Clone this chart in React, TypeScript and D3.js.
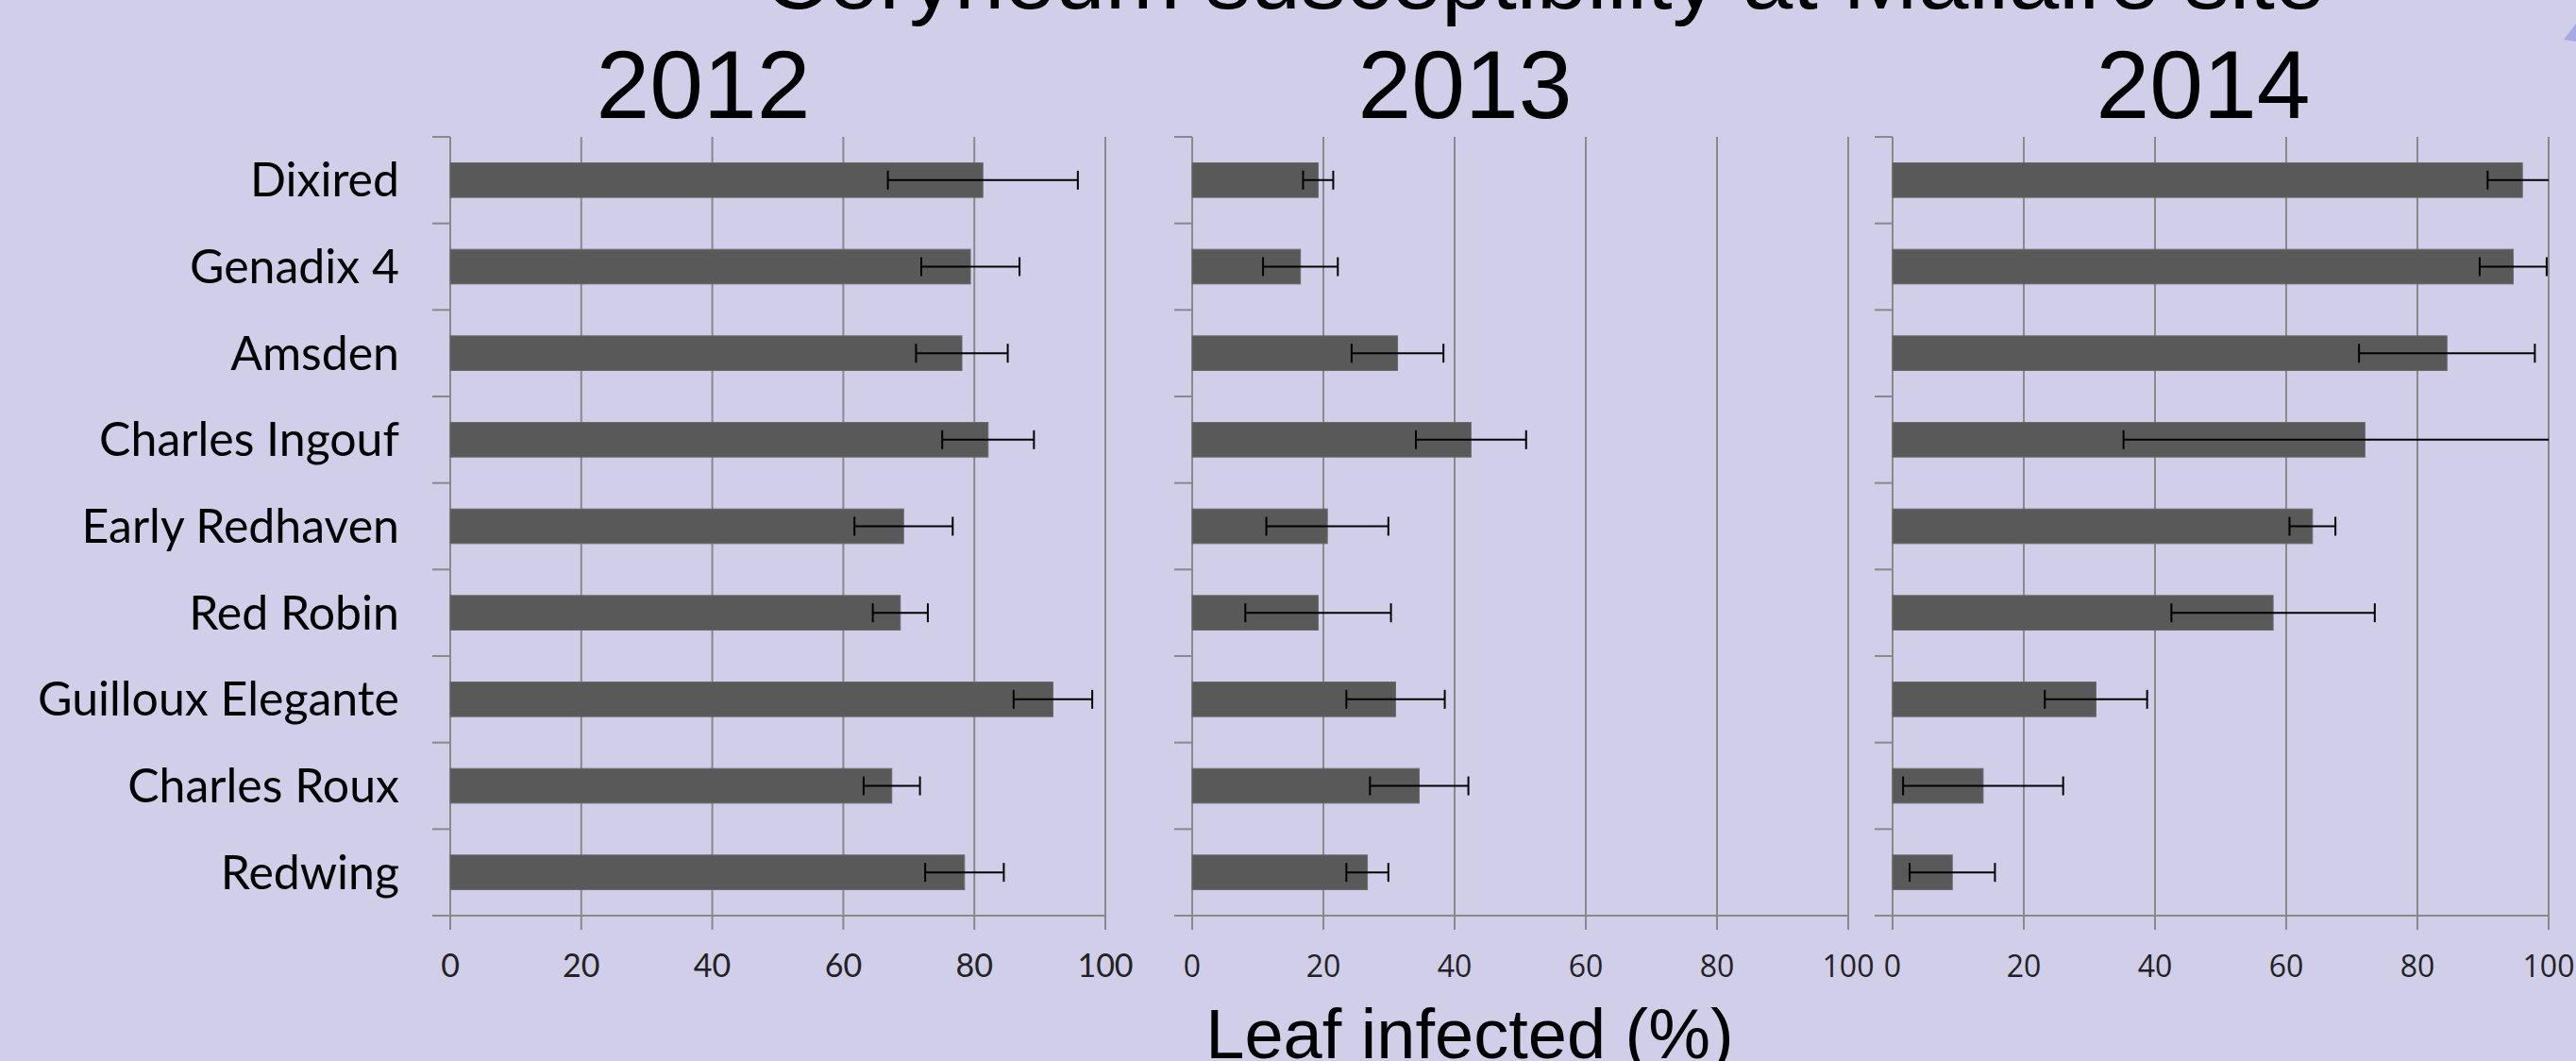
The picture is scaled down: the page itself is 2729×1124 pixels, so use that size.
import React from 'react';
import * as d3 from 'd3';

const categories = ['Dixired', 'Genadix 4', 'Amsden', 'Charles Ingouf', 'Early Redhaven', 'Red Robin', 'Guilloux Elegante', 'Charles Roux', 'Redwing'];
const years = ['2012', '2013', '2014'];
const mean2012 = [81.3, 79.4, 78.1, 82.1, 69.2, 68.7, 92.0, 67.4, 78.5];
const err2012 = [14.5, 7.5, 7.0, 7.0, 7.5, 4.2, 6.0, 4.3, 6.0];
const mean2013 = [19.2, 16.5, 31.3, 42.5, 20.6, 19.2, 31.0, 34.6, 26.7];
const err2013 = [2.3, 5.7, 7.0, 8.4, 9.3, 11.1, 7.5, 7.5, 3.2];
const mean2014 = [96.0, 94.6, 84.5, 72.0, 64.0, 58.0, 31.0, 13.8, 9.1];
const err2014 = [5.3, 5.1, 13.4, 36.8, 3.5, 15.5, 7.8, 12.2, 6.5];
const xTicks = [0, 20, 40, 60, 80, 100];

const title = 'Coryneum susceptibility at Mallaire site';
const xLabel = 'Leaf infected (%)';

const W = 2729;
const H = 1124;
const BG = '#d1cee9';
const GRID = '#898989';
const BAR = '#595959';

// layout of the three small multiples
const panels = [
  { x0: 477, x1: 1171, titleX: 745, tickFont: 'Lato, sans-serif', tickSize: 34, means: mean2012, errs: err2012 },
  { x0: 1263, x1: 1958, titleX: 1552, tickFont: '"Open Sans", sans-serif', tickSize: 32, means: mean2013, errs: err2013 },
  { x0: 2005, x1: 2700, titleX: 2334, tickFont: '"Open Sans", sans-serif', tickSize: 32, means: mean2014, errs: err2014 },
];

const yTop = 145;
const yBottom = 970;

const y = d3.scaleBand<string>()
  .domain(categories)
  .range([yTop, yBottom])
  .paddingInner(0.6)
  .paddingOuter(0.3);

const Panel: React.FC<{ p: typeof panels[number]; idx: number }> = ({ p, idx }) => {
  const x = d3.scaleLinear().domain([0, 100]).range([p.x0, p.x1]);
  const step = y.step();
  const boundaries = d3.range(categories.length + 1).map(i => yTop + i * step);
  const cap = 10;

  return (
    <g>
      {/* vertical gridlines */}
      {xTicks.map(t => (
        <line key={'g' + t} x1={x(t)} x2={x(t)} y1={yTop} y2={yBottom + 15} stroke={GRID} strokeWidth={2} />
      ))}
      {/* bottom axis */}
      <line x1={p.x0 - 19} x2={p.x1} y1={yBottom} y2={yBottom} stroke={GRID} strokeWidth={2} />
      {/* category ticks */}
      {boundaries.map((b, i) => (
        <line key={'t' + i} x1={p.x0 - 19} x2={p.x0} y1={b} y2={b} stroke={GRID} strokeWidth={2} />
      ))}
      {/* bars */}
      {categories.map((c, i) => (
        <rect key={'b' + c} x={x(0)} y={y(c)} width={x(p.means[i]) - x(0)} height={y.bandwidth()}
          fill={BAR} stroke="#6a6a6a" strokeWidth={1} />
      ))}
      {/* error bars */}
      {categories.map((c, i) => {
        const cy = (y(c) as number) + y.bandwidth() / 2;
        const lo = p.means[i] - p.errs[i];
        const hi = p.means[i] + p.errs[i];
        const hiClip = Math.min(hi, 100);
        return (
          <g key={'e' + c} stroke="#000" strokeWidth={2}>
            <line x1={x(lo)} x2={x(hiClip)} y1={cy} y2={cy} />
            <line x1={x(lo)} x2={x(lo)} y1={cy - cap} y2={cy + cap} />
            {hi <= 100 && <line x1={x(hi)} x2={x(hi)} y1={cy - cap} y2={cy + cap} />}
          </g>
        );
      })}
      {/* tick labels */}
      {xTicks.map(t => (
        <text key={'l' + t} x={x(t)} y={1035} textAnchor="middle" fontFamily={p.tickFont}
          fontSize={p.tickSize} fill="#222">{t}</text>
      ))}
      {/* year title */}
      <text x={p.titleX} y={125} textAnchor="middle" fontFamily='"Liberation Sans", Arial, sans-serif'
        fontSize={102} fill="#000">{years[idx]}</text>
    </g>
  );
};

export default function App() {
  return (
    <svg width={W} height={H} style={{ position: 'absolute', left: 0, top: 0, display: 'block' }}>
      <rect x={0} y={0} width={W} height={H} fill={BG} />
      <polygon points="2729,25 2716,42 2729,44" fill="#a9a8e6" />
      <text x={809} y={9} textLength={1654} lengthAdjust="spacingAndGlyphs"
        fontFamily='"Liberation Sans", Arial, sans-serif' fontSize={90} fill="#000">{title}</text>
      {categories.map(c => (
        <text key={c} x={423} y={(y(c) as number) + y.bandwidth() / 2 + 17.5} textAnchor="end"
          fontFamily="Lato, sans-serif" fontSize={50} fill="#000">{c}</text>
      ))}
      {panels.map((p, i) => <Panel key={i} p={p} idx={i} />)}
      <text x={1557} y={1121} textAnchor="middle" fontFamily='"Liberation Sans", Arial, sans-serif'
        fontSize={74} fill="#000">{xLabel}</text>
    </svg>
  );
}
